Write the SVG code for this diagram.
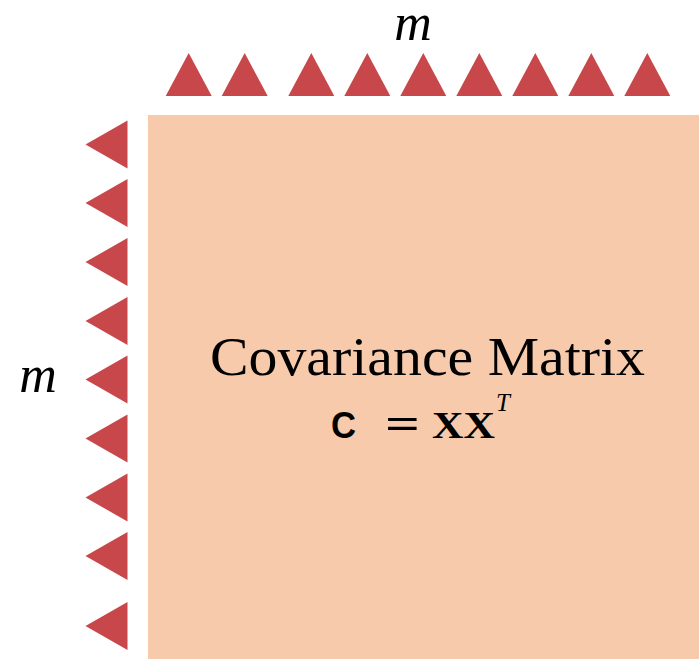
<svg xmlns="http://www.w3.org/2000/svg" width="699" height="659" viewBox="0 0 699 659">
<defs>
<style>
.tri{fill:#C8474A}
.m{font-family:"Liberation Serif",serif;font-style:italic;font-size:52px;fill:#000}
.lbl{font-family:"Liberation Serif",serif;font-size:54px;fill:#000}
.eq{font-family:"Liberation Serif",serif;font-weight:bold;fill:#000}
</style>
<polygon id="up" class="tri" points="0,-21.5 23,21.5 -23,21.5"/>
<polygon id="left" class="tri" points="-21,0 21,-24 21,24"/>
</defs>
<g id="matrix">
<rect x="148" y="115" width="551" height="544" fill="#F7CAAC"/>
<text class="lbl" x="427.5" y="375" text-anchor="middle" textLength="435" lengthAdjust="spacingAndGlyphs">Covariance Matrix</text>
<text x="331" y="438" font-family="Liberation Sans,sans-serif" font-weight="bold" font-size="36" textLength="25" lengthAdjust="spacingAndGlyphs">C</text>
<text class="eq" x="385" y="438" font-size="44" textLength="35" lengthAdjust="spacingAndGlyphs">=</text>
<text class="eq" x="432" y="438" font-size="38" textLength="63" lengthAdjust="spacingAndGlyphs">XX</text>
<text x="496" y="411" font-family="Liberation Serif,serif" font-style="italic" font-size="25">T</text>
</g>
<g id="top-markers">
<use href="#up" x="188.7" y="74.5"/>
<use href="#up" x="244.7" y="74.5"/>
<use href="#up" x="311.3" y="74.5"/>
<use href="#up" x="367.3" y="74.5"/>
<use href="#up" x="423.3" y="74.5"/>
<use href="#up" x="479.3" y="74.5"/>
<use href="#up" x="535.3" y="74.5"/>
<use href="#up" x="591.3" y="74.5"/>
<use href="#up" x="647.3" y="74.5"/>
<text class="m" x="413" y="40" text-anchor="middle">m</text>
</g>
<g id="left-markers">
<use href="#left" x="106.5" y="144.5"/>
<use href="#left" x="106.5" y="203"/>
<use href="#left" x="106.5" y="262"/>
<use href="#left" x="106.5" y="321"/>
<use href="#left" x="106.5" y="379.5"/>
<use href="#left" x="106.5" y="438.5"/>
<use href="#left" x="106.5" y="497.5"/>
<use href="#left" x="106.5" y="556"/>
<use href="#left" x="106.5" y="626"/>
<text class="m" x="38" y="392" text-anchor="middle">m</text>
</g>
</svg>
